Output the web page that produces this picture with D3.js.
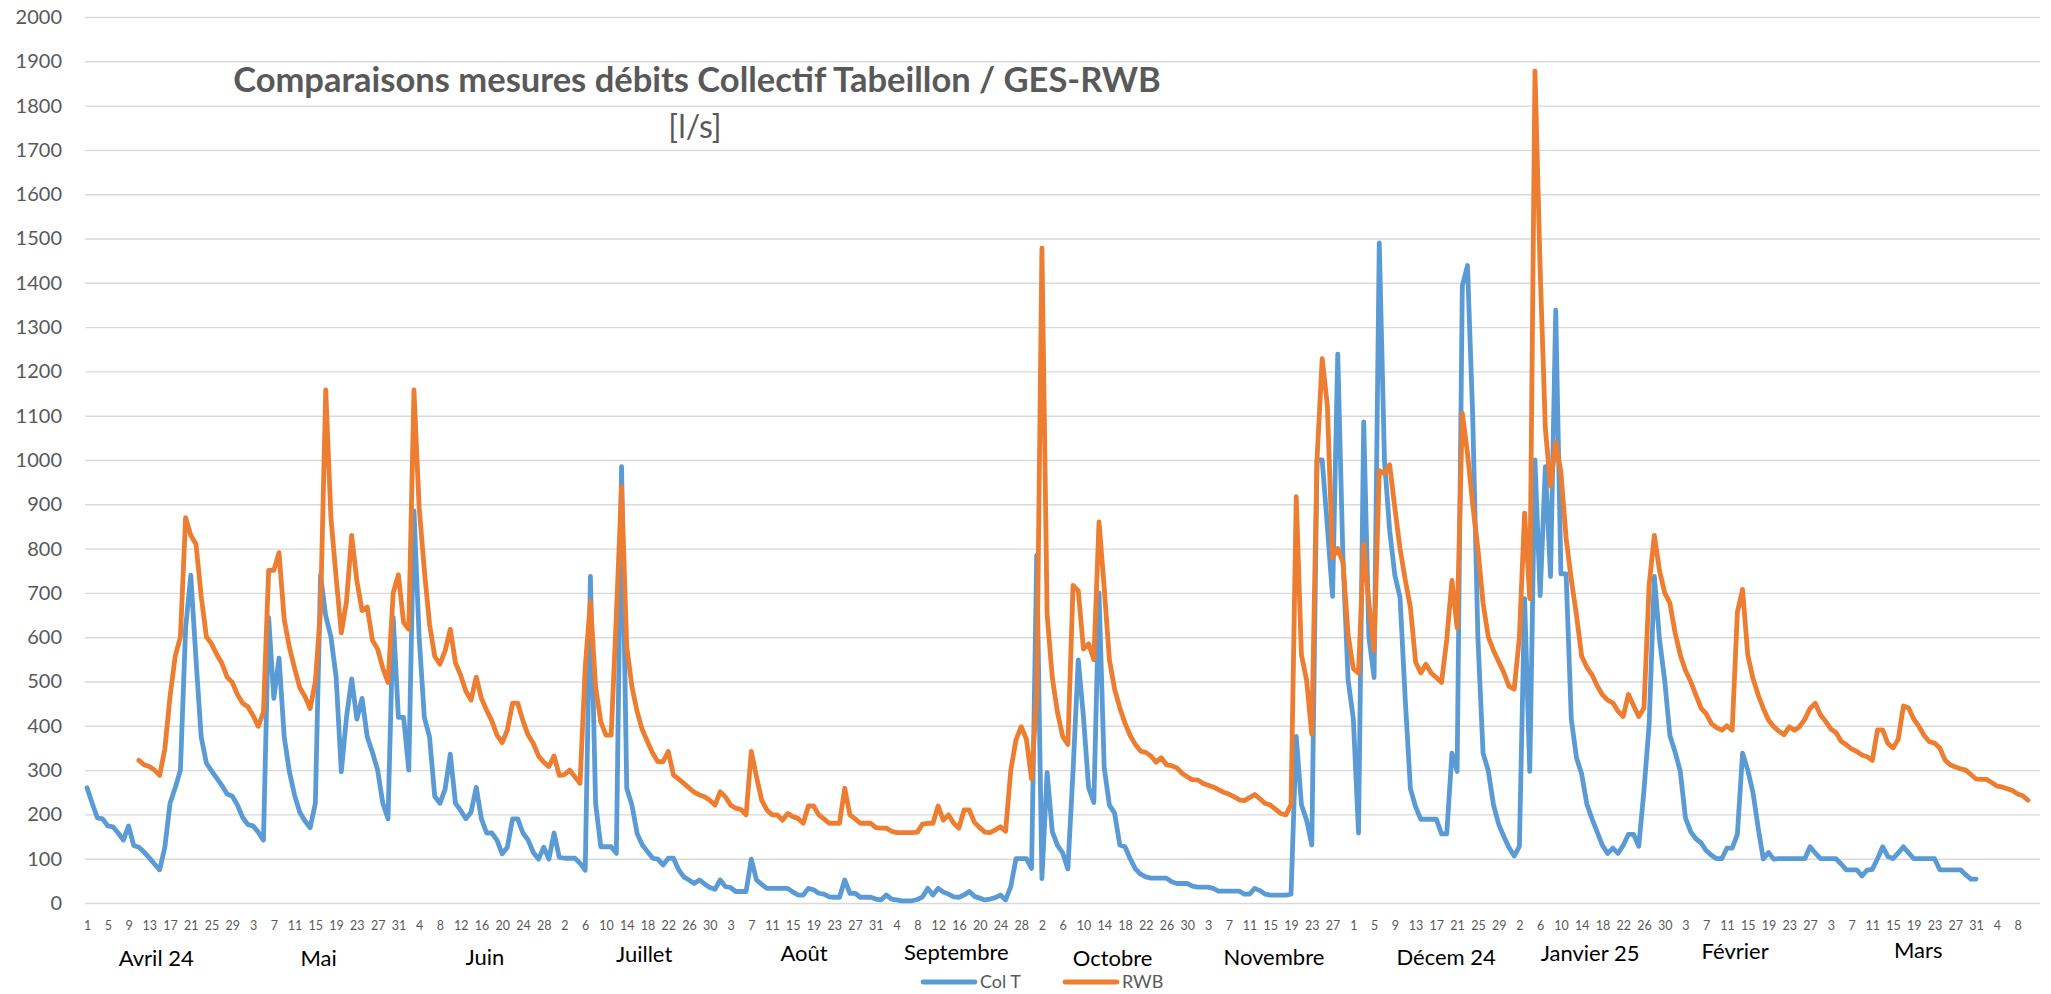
<!DOCTYPE html>
<html>
<head>
<meta charset="utf-8">
<script src="https://cdn.jsdelivr.net/npm/d3@7/dist/d3.min.js"></script>
<style>
  html, body { margin: 0; padding: 0; background: #ffffff; }
  svg { display: block; font-family: Lato, "Open Sans", "Liberation Sans", sans-serif; }
</style>
</head>
<body>
<svg id="chart" width="2051" height="994"></svg>
<script>
// Daily categories: 1 April 2024 → 10 April 2025
const startDate = new Date(2024, 3, 1);
const dayCount = 375;

// Value axis ticks [l/s]
const yTicks = d3.range(0, 2001, 100);

// Month captions under the day axis
const monthLabels = ["Avril 24", "Mai", "Juin", "Juillet", "Août", "Septembre",
  "Octobre", "Novembre", "Décem 24", "Janvier 25", "Février", "Mars"];

// Series names
const seriesNames = ["Col T", "RWB"];

// Col T – daily flow [l/s], 1 Apr 2024 → 31 Mar 2025
const colT = [
  260,225,192,190,174,172,158,142,174,130,
  126,115,102,88,75,126,225,260,300,620,
  740,550,375,316,298,282,265,246,241,221,
  193,177,174,160,142,644,462,553,375,296,
  243,205,185,170,225,740,648,601,510,296,
  419,506,415,462,375,340,300,225,190,644,
  419,419,300,885,600,419,375,241,225,257,
  336,225,209,190,205,261,190,158,158,142,
  111,126,190,190,158,142,114,99,126,99,
  158,103,101,101,101,90,74,737,225,127,
  127,127,112,985,259,221,157,131,116,101,
  99,86,101,101,75,59,52,44,52,43,
  35,31,52,37,35,26,26,26,99,52,
  42,33,33,33,33,33,25,18,18,33,
  30,22,20,14,13,13,52,22,22,13,
  13,13,9,7,18,9,7,5,5,5,
  8,14,33,18,33,25,20,14,13,18,
  26,15,11,7,9,12,18,7,37,100,
  100,100,78,785,55,295,161,130,113,77,
  300,549,420,260,227,700,305,221,203,131,
  127,100,77,65,59,56,56,56,56,48,
  44,44,44,38,36,36,36,33,27,27,
  27,27,27,20,20,33,28,20,18,18,
  18,18,20,376,222,187,131,1000,1000,850,
  692,1239,780,503,416,158,1086,600,509,1490,
  1000,841,740,690,460,258,217,189,189,189,
  189,156,156,338,297,1393,1439,1100,600,338,
  299,222,178,150,125,106,128,687,297,1000,
  694,985,737,1338,743,743,415,328,291,223,
  190,160,130,112,124,112,130,155,155,128,
  254,403,737,595,502,378,341,297,192,161,
  145,136,118,108,100,100,124,124,155,338,
  300,250,170,99,114,99,100,100,100,100,
  100,100,127,113,100,100,100,100,88,75,
  75,75,61,74,76,100,127,105,100,113,
  127,113,100,100,100,100,100,75,75,75,
  75,75,64,54,54
];

// RWB – daily flow [l/s], no record before 11 Apr 2024
const rwb = [
  null,null,null,null,null,null,null,null,null,null,
  322,312,308,300,288,348,466,557,601,870,
  830,810,693,601,585,561,541,510,498,470,
  451,443,423,399,431,751,751,791,640,577,
  530,486,466,439,500,660,1158,870,735,610,
  680,830,727,660,668,593,573,530,498,700,
  741,633,618,1158,893,751,629,557,539,569,
  618,542,514,478,458,510,462,435,411,379,
  362,391,451,451,411,379,360,332,318,308,
  332,288,290,300,285,270,533,680,488,409,
  379,379,650,940,579,488,432,391,364,338,
  319,319,342,289,280,270,260,250,244,240,
  232,221,251,240,221,214,211,199,342,285,
  232,210,199,199,187,202,195,191,180,219,
  219,199,190,180,180,180,259,199,190,180,
  180,180,170,169,169,162,159,159,159,159,
  160,178,180,180,219,187,199,180,169,210,
  210,182,170,160,159,165,172,162,300,368,
  398,370,280,472,1478,651,508,430,376,358,
  717,705,573,585,549,860,711,549,483,441,
  406,378,358,343,340,332,318,328,312,310,
  305,293,285,278,278,270,266,262,256,250,
  246,240,233,231,238,245,235,225,221,212,
  202,199,222,917,560,503,381,1000,1229,1122,
  779,800,769,605,529,519,810,677,570,976,
  969,989,892,800,730,667,544,519,539,519,
  509,498,595,728,621,1106,1015,900,800,677,
  601,570,545,520,489,483,600,880,687,1878,
  1430,1071,941,1040,972,824,730,650,557,532,
  515,490,470,458,452,433,421,471,446,421,
  440,718,830,750,700,677,610,560,525,500,
  470,440,427,405,396,390,400,390,656,708,
  560,507,470,439,413,398,388,380,398,390,
  398,415,439,451,425,410,393,385,365,357,
  348,342,334,330,322,391,391,360,350,370,
  445,440,415,398,378,364,361,350,323,312,
  307,303,300,290,280,279,279,272,264,262,
  258,254,246,242,232
];

// ---------- layout ----------
const plot = { left: 87, right: 2028, top: 17, bottom: 903 };
const gridLeft = 85, gridRight = 2040;
const colors = { colT: "#5B9BD5", rwb: "#ED7D31", grid: "#D9D9D9", text: "#595959", month: "#000000" };
// small hand placement of the month captions (dx, baseline y)
const monthPlacement = [
  [-6, 966], [-2, 966], [6, 965], [7, 962], [6, 961], [0, 960],
  [-2, 966], [1, 965], [15, 965], [-2, 961], [-10, 959], [20, 958]
];

const dates = d3.range(dayCount).map(i => d3.timeDay.offset(startDate, i));

const svg = d3.select("#chart");

const x = d3.scaleLinear().domain([0, dayCount - 1]).range([plot.left, plot.right]);
const y = d3.scaleLinear().domain([0, 2000]).range([plot.bottom, plot.top]);

// gridlines + value labels
const yAxis = d3.axisLeft(y)
  .tickValues(yTicks)
  .tickSize(-(gridRight - gridLeft))
  .tickPadding(23)
  .tickFormat(d3.format("d"));

const gy = svg.append("g")
  .attr("transform", `translate(${gridLeft},0)`)
  .call(yAxis);
gy.select(".domain").remove();
gy.selectAll(".tick line").attr("stroke", colors.grid).attr("stroke-width", 1.4);
gy.selectAll(".tick text")
  .attr("fill", colors.text)
  .style("font-size", "20px")
  .style("font-family", "Lato, sans-serif");

// day-of-month labels every 4 days
const xAxis = d3.axisBottom(x)
  .tickValues(d3.range(0, dayCount, 4))
  .tickSize(0)
  .tickPadding(18)
  .tickFormat(i => dates[i].getDate());

const gx = svg.append("g")
  .attr("transform", `translate(0,${plot.bottom})`)
  .call(xAxis);
gx.select(".domain").remove();
gx.selectAll(".tick text")
  .attr("fill", colors.text)
  .style("font-size", "12.5px")
  .style("font-family", "Lato, sans-serif");

// month captions, centred on each month's span of days
const monthGroups = d3.groups(d3.range(dayCount).filter(i => dates[i] < new Date(2025, 3, 1)),
  i => `${dates[i].getFullYear()}-${dates[i].getMonth()}`);
svg.append("g").selectAll("text")
  .data(monthGroups)
  .join("text")
  .attr("x", (g, k) => x((g[1][0] + g[1][g[1].length - 1]) / 2) + monthPlacement[k][0])
  .attr("y", (g, k) => monthPlacement[k][1])
  .attr("text-anchor", "middle")
  .attr("fill", colors.month)
  .style("font-size", "22px")
  .text((g, k) => monthLabels[k]);

// series lines
const line = d3.line()
  .defined(d => d[1] != null)
  .x(d => x(d[0]))
  .y(d => y(d[1]));

const series = [
  { key: "colT", values: colT, color: colors.colT },
  { key: "rwb", values: rwb, color: colors.rwb }
];

svg.append("g").selectAll("path")
  .data(series)
  .join("path")
  .attr("fill", "none")
  .attr("stroke", s => s.color)
  .attr("stroke-width", 4.8)
  .attr("stroke-linejoin", "round")
  .attr("stroke-linecap", "round")
  .attr("d", s => line(s.values.map((v, i) => [i, v])));

// title
svg.append("text")
  .attr("x", 697).attr("y", 92)
  .attr("text-anchor", "middle")
  .attr("fill", colors.text)
  .style("font-size", "34.5px")
  .style("font-weight", "bold")
  .text("Comparaisons mesures débits Collectif Tabeillon / GES-RWB");

svg.append("text")
  .attr("x", 695).attr("y", 138)
  .attr("text-anchor", "middle")
  .attr("fill", colors.text)
  .style("font-size", "32px")
  .text("[l/s]");

// legend
const legendY = 982;
const legend = svg.append("g");
const legendItems = [
  { name: seriesNames[0], color: colors.colT, x0: 923 },
  { name: seriesNames[1], color: colors.rwb, x0: 1065 }
];
legendItems.forEach(it => {
  legend.append("line")
    .attr("x1", it.x0).attr("x2", it.x0 + 52)
    .attr("y1", legendY).attr("y2", legendY)
    .attr("stroke", it.color).attr("stroke-width", 4.8)
    .attr("stroke-linecap", "round");
  legend.append("text")
    .attr("x", it.x0 + 57).attr("y", legendY)
    .attr("dy", "0.35em")
    .attr("fill", colors.text)
    .style("font-size", "18px")
    .text(it.name);
});
</script>
</body>
</html>
